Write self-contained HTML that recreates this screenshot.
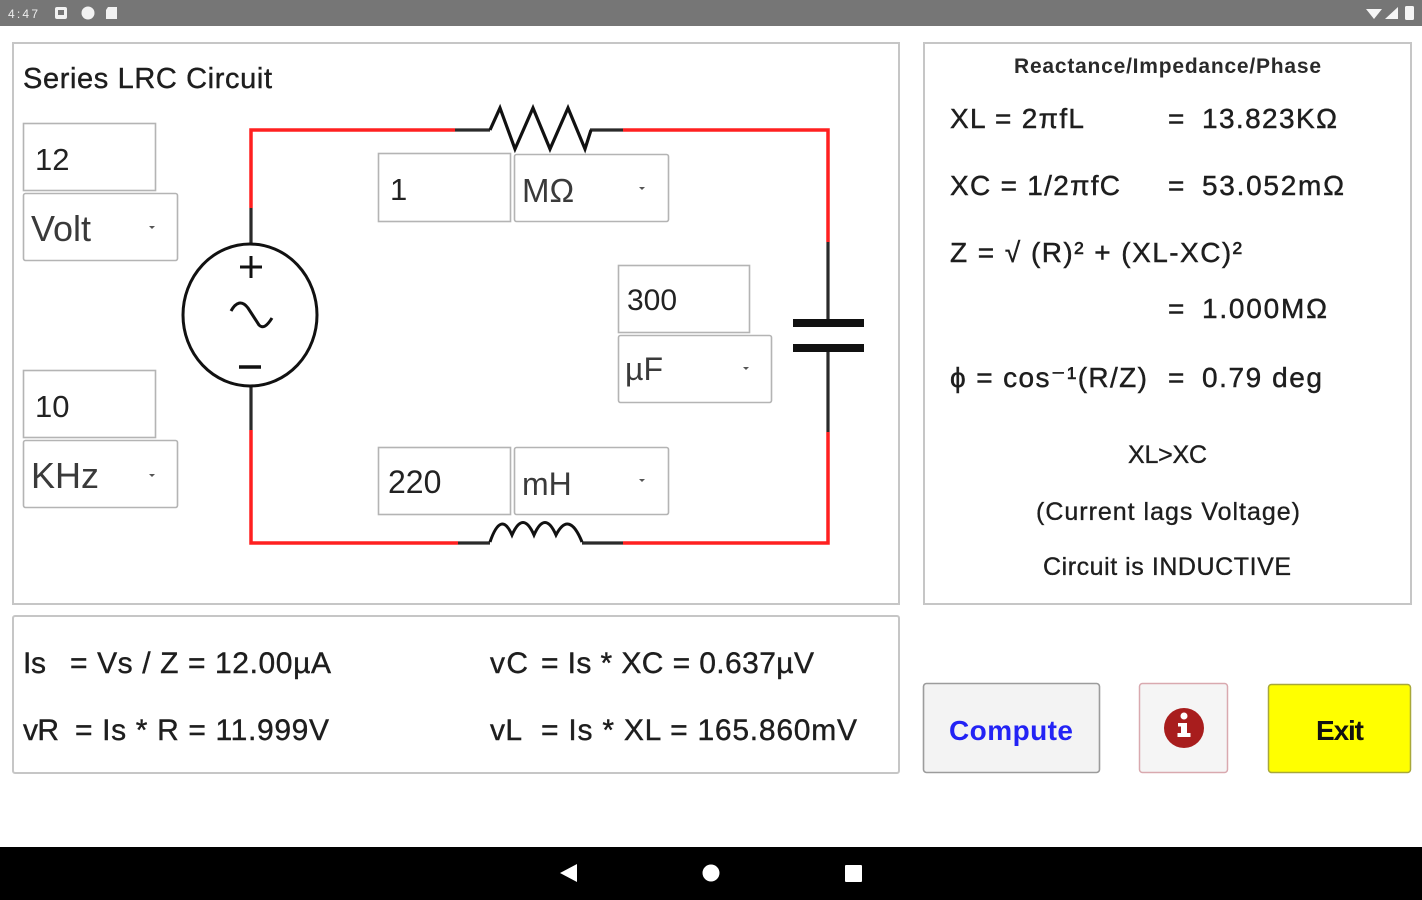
<!DOCTYPE html>
<html><head><meta charset="utf-8"><style>
html,body{margin:0;padding:0;background:#fff;width:1422px;height:900px;overflow:hidden}
svg{display:block}
text{font-family:"Liberation Sans","DejaVu Sans",sans-serif}
</style></head><body>
<svg width="1422" height="900" viewBox="0 0 1422 900" xmlns="http://www.w3.org/2000/svg">
<!-- status bar -->
<rect x="0" y="0" width="1422" height="26" fill="#767676"/>
<text x="8" y="18" font-size="12" fill="#eee" textLength="30">4:47</text>
<rect x="55" y="7" width="12" height="12" rx="2" fill="#f2f2f2"/>
<rect x="58" y="10" width="6" height="5" fill="#767676"/>
<circle cx="88" cy="13" r="6.5" fill="#f2f2f2"/>
<path d="M108,7 h9 v12 h-11 v-9 z" fill="#f2f2f2"/>
<path d="M1366,9 L1382,9 L1374,19 Z" fill="#f5f5f5"/>
<path d="M1385,19 L1398,7 L1398,19 Z" fill="#f5f5f5"/>
<rect x="1405" y="6" width="9" height="14" rx="1.5" fill="#f5f5f5"/>

<!-- panels -->
<rect x="13" y="43" width="886" height="561" fill="#fff" stroke="#c6c6c6" stroke-width="2"/>
<rect x="924" y="43" width="487" height="561" fill="#fff" stroke="#c6c6c6" stroke-width="2"/>
<rect x="13" y="616" width="886" height="157" fill="#fff" stroke="#c6c6c6" stroke-width="2" rx="2"/>

<!-- title -->
<text x="23" y="88" font-size="29" fill="#1e1e1e" stroke="#1e1e1e" stroke-width="0.4" textLength="249">Series LRC Circuit</text>

<!-- wires red -->
<g fill="none" stroke="#ff2020" stroke-width="3.5" stroke-linejoin="miter">
<path d="M455,130 H251 V208"/>
<path d="M623,130 H828 V242"/>
<path d="M828,432 V543 H623"/>
<path d="M458,543 H251 V430"/>
</g>
<!-- wires black -->
<g fill="none" stroke="#2a2a2a" stroke-width="3.2">
<path d="M455,130 H490"/>
<path d="M590,130 H623"/>
<path d="M828,242 V322"/>
<path d="M828,350 V432"/>
<path d="M623,543 H582"/>
<path d="M490,543 H458"/>
<path d="M251,208 V245"/>
<path d="M251,387 V430"/>
</g>
<!-- resistor -->
<path d="M490,130 L500,108 L515,149 L533,108 L550,149 L568,108 L585,149 L591,130" fill="none" stroke="#111" stroke-width="3.2" stroke-linejoin="miter"/>
<!-- capacitor -->
<rect x="793" y="319" width="71" height="8" fill="#111"/>
<rect x="793" y="344" width="71" height="8" fill="#111"/>
<!-- inductor -->
<path d="M490,542 Q501,510 512,535 Q523,510 534,535 Q545,510 556,535 Q569,510 582,542" fill="none" stroke="#111" stroke-width="3"/>
<!-- source -->
<ellipse cx="250" cy="315" rx="67" ry="71" fill="none" stroke="#111" stroke-width="3"/>
<path d="M240,267 H262 M251,256 V278" stroke="#111" stroke-width="3"/>
<path d="M239,367 H261" stroke="#111" stroke-width="3.5"/>
<path d="M231,311 C236,302 242,300 248,308 L259,325 C263,329 267,326 272,318" fill="none" stroke="#111" stroke-width="3"/>

<!-- input boxes -->
<g fill="#fff" stroke="#b4b4b4" stroke-width="1.6">
<rect x="23.5" y="123.5" width="132" height="67"/>
<rect x="23.5" y="193.5" width="154" height="67" rx="2"/>
<rect x="23.5" y="370.5" width="132" height="67"/>
<rect x="23.5" y="440.5" width="154" height="67" rx="2"/>
<rect x="378.5" y="153.5" width="132" height="68"/>
<rect x="514.5" y="154.5" width="154" height="67" rx="2"/>
<rect x="618.5" y="265.5" width="131" height="67"/>
<rect x="618.5" y="335.5" width="153" height="67" rx="2"/>
<rect x="378.5" y="447.5" width="132" height="67"/>
<rect x="514.5" y="447.5" width="154" height="67" rx="2"/>
</g>
<g fill="#555">
<path d="M149,226 h6 l-3,3 z"/>
<path d="M149,474 h6 l-3,3 z"/>
<path d="M639,187 h6 l-3,3 z"/>
<path d="M743,367 h6 l-3,3 z"/>
<path d="M639,479 h6 l-3,3 z"/>
</g>
<g font-size="31" fill="#222">
<text x="35" y="170">12</text>
<text x="35" y="417">10</text>
<text x="390" y="200">1</text>
<text x="627" y="310" font-size="30">300</text>
<text x="388" y="493" font-size="32">220</text>
</g>
<g fill="#3a3a3a">
<text x="31" y="241" font-size="36">Volt</text>
<text x="31" y="488" font-size="36">KHz</text>
<text x="522" y="202" font-size="33">MΩ</text>
<text x="625" y="380" font-size="32">µF</text>
<text x="522" y="495" font-size="32">mH</text>
</g>

<!-- right panel -->
<text x="1014" y="73" font-size="21" font-weight="bold" fill="#2a2a2a" textLength="307">Reactance/Impedance/Phase</text>
<g font-size="28" fill="#1e1e1e" stroke="#1e1e1e" stroke-width="0.45">
<text x="950" y="128" textLength="134">XL = 2πfL</text>
<text x="1168" y="128">=</text>
<text x="1202" y="128" textLength="135">13.823KΩ</text>
<text x="950" y="195" textLength="170">XC = 1/2πfC</text>
<text x="1168" y="195">=</text>
<text x="1202" y="195" textLength="142">53.052mΩ</text>
<text x="950" y="262" textLength="292">Z =  √ (R)² + (XL-XC)²</text>
<text x="1168" y="318">=</text>
<text x="1202" y="318" textLength="125">1.000MΩ</text>
<text x="950" y="387" textLength="197">ϕ = cos⁻¹(R/Z)</text>
<text x="1168" y="387">=</text>
<text x="1202" y="387" textLength="120">0.79 deg</text>
</g>
<g font-size="25" fill="#1e1e1e" stroke="#1e1e1e" stroke-width="0.35">
<text x="1128" y="463" textLength="79">XL&gt;XC</text>
<text x="1036" y="520" textLength="264">(Current lags Voltage)</text>
<text x="1043" y="575" textLength="248">Circuit is INDUCTIVE</text>
</g>

<!-- bottom panel -->
<g font-size="30" fill="#1e1e1e" stroke="#1e1e1e" stroke-width="0.4">
<text x="23" y="673" textLength="23">Is</text>
<text x="70" y="673" textLength="261">= Vs / Z = 12.00µA</text>
<text x="23" y="740" textLength="36">vR</text>
<text x="75" y="740" textLength="254">= Is * R = 11.999V</text>
<text x="490" y="673" textLength="38">vC</text>
<text x="541" y="673" textLength="273">= Is * XC = 0.637µV</text>
<text x="490" y="740" textLength="32">vL</text>
<text x="541" y="740" textLength="316">= Is * XL =  165.860mV</text>
</g>

<!-- buttons -->
<rect x="923.5" y="683.5" width="176" height="89" rx="3" fill="#f3f3f3" stroke="#9c9c9c" stroke-width="1.6"/>
<text x="949" y="740" font-size="28" font-weight="bold" fill="#2323f5" textLength="124">Compute</text>
<rect x="1139.5" y="683.5" width="88" height="89" rx="3" fill="#f5f5f5" stroke="#d9a9af" stroke-width="1.5"/>
<circle cx="1184" cy="728" r="20" fill="#a81d1d"/>
<circle cx="1184" cy="716" r="3.5" fill="#fff"/>
<rect x="1181" y="723" width="6" height="14" fill="#fff"/>
<rect x="1177.5" y="733" width="13" height="4" fill="#fff"/>
<rect x="1178" y="723" width="8" height="3.5" fill="#fff"/>
<rect x="1268.5" y="684.5" width="142" height="88" rx="3" fill="#ffff00" stroke="#a8a83a" stroke-width="1.5"/>
<text x="1316" y="740" font-size="28" font-weight="bold" fill="#111" textLength="48">Exit</text>

<!-- nav bar -->
<rect x="0" y="847" width="1422" height="53" fill="#000"/>
<path d="M560,873 L577,864 L577,882 Z" fill="#fff"/>
<circle cx="711" cy="873" r="8.5" fill="#fff"/>
<rect x="845" y="865" width="17" height="17" rx="1" fill="#fff"/>
</svg>
</body></html>
